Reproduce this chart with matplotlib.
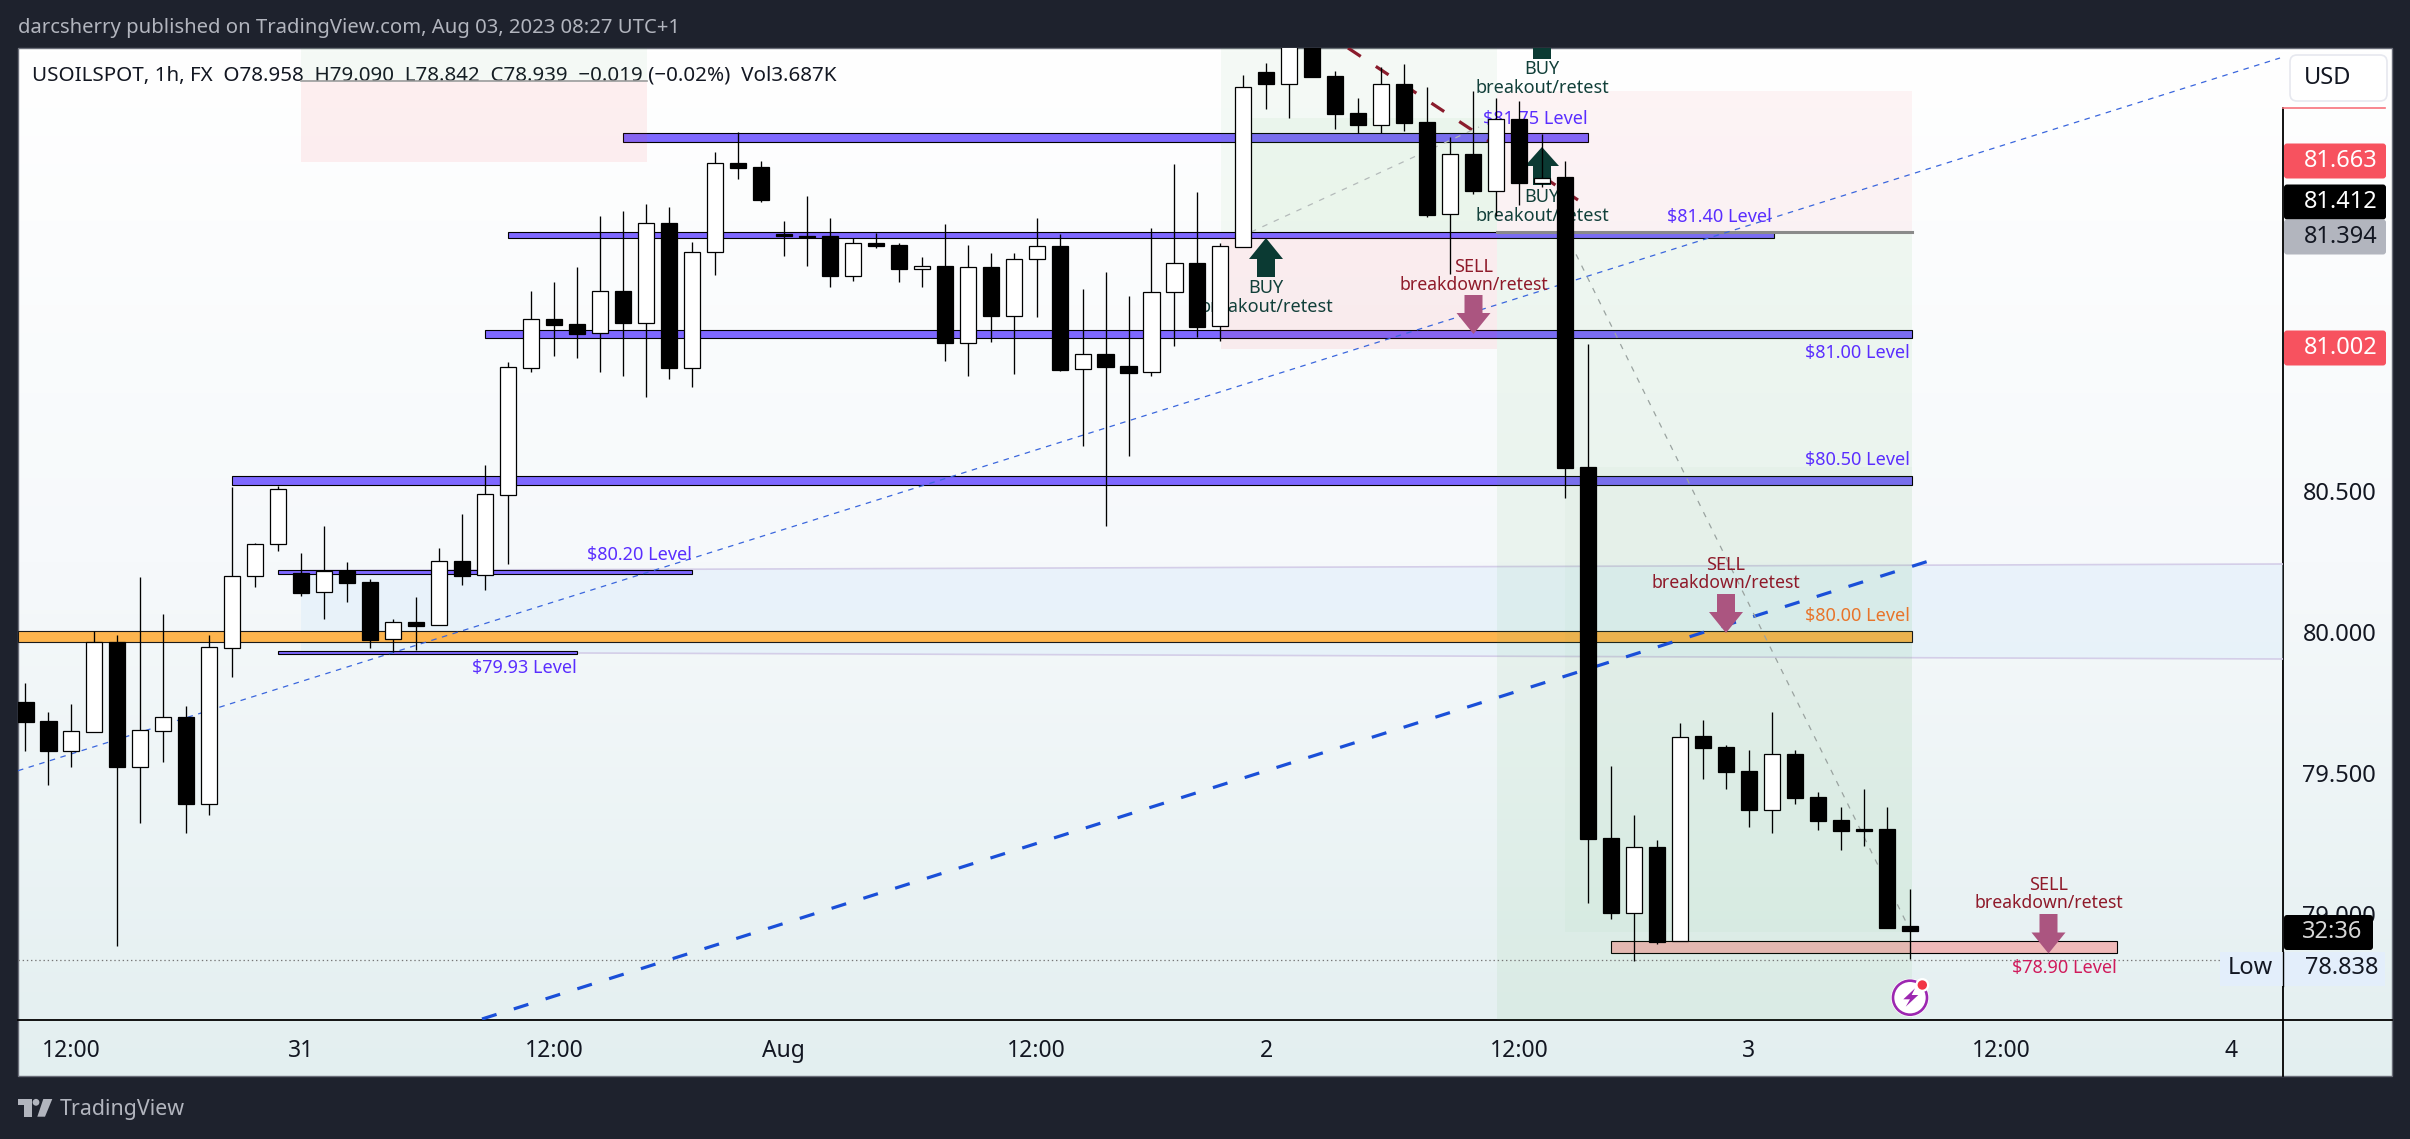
import matplotlib
matplotlib.use("Agg")
import matplotlib.pyplot as plt
import numpy as np
from matplotlib.patches import Circle, FancyBboxPatch, Polygon, Rectangle

plt.rcParams["font.family"] = ["Noto Sans", "DejaVu Sans"]
plt.rcParams["lines.scale_dashes"] = False

# hourly candles, USOILSPOT
opens = [79.752, 79.683, 79.579, 79.646, 79.966, 79.522, 79.650, 79.699, 79.391, 79.944,
         80.198, 80.311, 80.208, 80.141, 80.217, 80.177, 79.974, 80.035, 80.024, 80.251,
         80.201, 80.487, 80.937, 81.109, 81.092, 81.059, 81.209, 81.097, 81.450, 80.937,
         81.346, 81.663, 81.649, 81.411, 81.406, 81.404, 81.263, 81.379, 81.372, 81.288,
         81.298, 81.026, 81.294, 81.122, 81.322, 81.368, 80.932, 80.986, 80.943, 80.921,
         81.205, 81.309, 81.084, 81.366, 81.986, 81.944, 82.106, 81.972, 81.839, 81.799,
         81.943, 81.809, 81.481, 81.695, 81.565, 81.818, 81.593, 81.613, 80.585, 79.270,
         79.005, 79.236, 78.904, 79.631, 79.592, 79.507, 79.369, 79.567, 79.415, 79.333,
         79.300, 79.301, 78.958]
highs = [79.819, 79.716, 79.745, 80.005, 79.989, 80.195, 80.064, 79.738, 79.989, 80.514,
         80.316, 80.518, 80.279, 80.376, 80.247, 80.188, 80.045, 80.124, 80.298, 80.418,
         80.592, 80.956, 81.209, 81.241, 81.295, 81.475, 81.493, 81.518, 81.507, 81.383,
         81.702, 81.773, 81.670, 81.457, 81.546, 81.467, 81.397, 81.416, 81.378, 81.330,
         81.447, 81.372, 81.343, 81.343, 81.467, 81.410, 81.215, 81.276, 81.191, 81.432,
         81.658, 81.559, 81.378, 81.975, 82.018, 82.135, 82.152, 81.989, 81.893, 82.005,
         82.014, 81.932, 81.754, 81.918, 81.895, 81.883, 81.766, 81.670, 81.021, 79.525,
         79.351, 79.264, 79.677, 79.688, 79.599, 79.583, 79.715, 79.582, 79.433, 79.379,
         79.443, 79.379, 79.090]
lows = [79.579, 79.457, 79.522, 79.646, 78.888, 79.324, 79.540, 79.288, 79.352, 79.841,
        80.161, 80.288, 80.129, 80.047, 80.107, 79.944, 79.930, 79.936, 80.024, 80.167,
        80.149, 80.242, 80.922, 80.979, 80.973, 80.923, 80.909, 80.833, 80.897, 80.870,
        81.266, 81.607, 81.526, 81.333, 81.299, 81.224, 81.246, 81.363, 81.242, 81.224,
        80.962, 80.909, 81.029, 80.915, 81.118, 80.924, 80.660, 80.377, 80.625, 80.909,
        81.015, 81.047, 81.033, 81.366, 81.855, 81.823, 81.968, 81.785, 81.770, 81.770,
        81.778, 81.473, 81.268, 81.554, 81.475, 81.514, 81.579, 80.476, 79.040, 78.982,
        78.833, 78.894, 78.904, 79.480, 79.443, 79.309, 79.287, 79.390, 79.298, 79.227,
        79.241, 78.950, 78.842]
closes = [79.682, 79.579, 79.648, 79.963, 79.522, 79.651, 79.698, 79.391, 79.946, 80.198,
          80.311, 80.506, 80.139, 80.215, 80.175, 79.973, 80.034, 80.022, 80.251, 80.200,
          80.488, 80.939, 81.109, 81.090, 81.058, 81.208, 81.097, 81.449, 80.937, 81.346,
          81.662, 81.646, 81.532, 81.406, 81.401, 81.263, 81.378, 81.369, 81.288, 81.298,
          81.026, 81.293, 81.122, 81.322, 81.368, 80.930, 80.985, 80.941, 80.920, 81.205,
          81.307, 81.083, 81.368, 81.932, 81.944, 82.099, 81.968, 81.838, 81.799, 81.942,
          81.806, 81.479, 81.694, 81.565, 81.818, 81.593, 81.611, 80.583, 79.267, 79.005,
          79.236, 78.901, 79.629, 79.589, 79.504, 79.369, 79.567, 79.411, 79.330, 79.294,
          79.294, 78.950, 78.939]

time_ticks = [2, 12, 23, 33, 44, 54, 65, 75, 86, 96]
time_labels = ["12:00", "31", "12:00", "Aug", "12:00", "2", "12:00", "3", "12:00", "4"]
price_ticks = [80.5, 80.0, 79.5, 79.0]
price_labels = ["80.500", "80.000", "79.500", "79.000"]

# horizontal level boxes: first bar, last bar, upper price, lower price
level_left = [26.0, 21.0, 20.0, 9.0, 11.0, 11.0, 69.0]
level_right = [68.0, 76.1, 82.1, 82.1, 29.0, 24.0, 91.0]
level_top = [81.768, 81.418, 81.072, 80.552, 80.220, 79.934, 78.904]
level_bottom = [81.738, 81.398, 81.042, 80.520, 80.204, 79.922, 78.860]
level_colors = ["#7e68ff"] * 6 + ["#efb9b9"]
low_price = 78.838

fig = plt.figure(figsize=(24.10, 11.39), dpi=100, facecolor="#1e222d")


def pixel_axes(z):
    a = fig.add_axes([0, 0, 1, 1], zorder=z)
    a.set_xlim(0, 2410)
    a.set_ylim(1139, 0)
    a.axis("off")
    a.patch.set_alpha(0)
    return a


ui = pixel_axes(0)
top = pixel_axes(2)
gradient = np.linspace(0, 1, 256).reshape(-1, 1)
ui.imshow(gradient, extent=(18, 2392, 1076, 48), aspect="auto", zorder=0,
          cmap=matplotlib.colors.LinearSegmentedColormap.from_list("bg", ["#ffffff", "#f6f9fb", "#e3eff0"]))
ui.set_xlim(0, 2410)
ui.set_ylim(1139, 0)
ui.add_patch(Rectangle((18, 48), 2374, 1028, fill=False, ec="#6a6d78", lw=1, zorder=1))

ax = fig.add_axes([18 / 2410, 1 - 1020 / 1139, 2265 / 2410, 972 / 1139], zorder=1)
ax.patch.set_alpha(0)
ax.set_xlim(-0.326, 98.24)
ax.set_ylim(78.624, 82.071)
pix = ui.transData


def zone(x0, y0, x1, y1, color, alpha, z=2.5):
    ax.add_patch(Rectangle((x0, y0), x1 - x0, y1 - y0, fc=color, alpha=alpha, lw=0, transform=pix, zorder=z))


# blue band between the two thin lines
ax.add_patch(Polygon([(301, 570.5), (2283, 564), (2283, 659), (301, 652)], fc="#d4e9fb", alpha=0.35, lw=0,
                     transform=pix, zorder=1))
ax.plot([301, 2283], [570.5, 564], color="#d4cee8", lw=1.2, transform=pix, zorder=1)
ax.plot([301, 2283], [652, 659], color="#d4cee8", lw=1.2, transform=pix, zorder=1)

# level boxes
for left, right, up, down, col in zip(level_left, level_right, level_top, level_bottom, level_colors):
    ax.add_patch(Rectangle((left, down), right - left, up - down, fc=col, ec="black", lw=0.8, zorder=2))
ax.add_patch(Rectangle((18, 630.5), 1893.5, 11, fc="#fdb44e", ec="#1a1a1a", lw=0.8, transform=pix, zorder=2))

# position zones
zone(301, 48, 647, 81, "#4caf50", 0.05)
zone(301, 82, 647, 162, "#f23645", 0.08)
zone(1221, 48, 1497, 232, "#4caf50", 0.05)
zone(1251, 118, 1497, 232, "#4caf50", 0.05)
zone(1221, 237, 1497, 349, "#f23645", 0.08)
zone(1497, 91, 1912, 232, "#f23645", 0.05)
zone(1497, 232, 1912, 1020, "#4caf50", 0.07)
zone(1565, 467, 1912, 932, "#4caf50", 0.03)
ax.plot([301, 647], [81, 81], color="#9a9a9a", lw=1.2, transform=pix, zorder=2.6)
ax.plot([1497, 1912], [232, 232], color="#8a8a8a", lw=2.2, transform=pix, zorder=2.6)

# trend lines
ax.plot([18, 2280], [770.7, 58], color="#3a66dd", lw=0.9, ls=(0, (4, 4)), transform=pix, zorder=3)
ax.plot([482, 1932], [1019, 560], color="#1a4fd8", lw=2.3, ls=(0, (11, 13)), transform=pix, zorder=3,
        dash_capstyle="butt")
ax.plot([1348, 1578], [48, 200], color="#8a1c2c", lw=2.3, ls=(0, (11, 13)), transform=pix, zorder=3,
        dash_capstyle="butt")
ax.plot([1251, 1479], [232, 127], color="#b4baba", lw=0.9, ls=(0, (4, 5)), transform=pix, zorder=3)
ax.plot([1565, 1910], [232, 930], color="#9aa3a0", lw=0.9, ls=(0, (4, 5)), transform=pix, zorder=3)


def arrow(x, tip, base, tail, color, z=3.5):
    pts = [(x, tip), (x + 17, base), (x + 9, base), (x + 9, tail), (x - 9, tail), (x - 9, base), (x - 17, base)]
    ax.add_patch(Polygon(pts, fc=color, lw=0, transform=pix, zorder=z))


def note(x, y, s, color, ha="center", size=13):
    ax.text(x, y, s, color=color, ha=ha, va="center", fontsize=size, transform=pix, zorder=4)


for x, tip, base, tail in [(1266, 238, 259, 277), (1542, 20, 40, 59), (1542, 147, 166, 185)]:
    arrow(x, tip, base, tail, "#0b3a33")
for x, y in [(1266, 288), (1542, 69), (1542, 197)]:
    note(x, y, "BUY", "#12403a")
    note(x, y + 19, "breakout/retest", "#12403a")
for x, tip, base, tail in [(1473.5, 334, 313, 295), (1726, 633, 612, 594), (2048.5, 953.5, 932.5, 914)]:
    arrow(x, tip, base, tail, "#ab5580")
for x, y in [(1473.5, 267), (1726, 565), (2048.5, 885)]:
    note(x, y, "SELL", "#8f1a2a")
    note(x, y + 18.5, "breakdown/retest", "#8f1a2a", size=12.7)

level_blue = "#5a2eff"
note(1588, 119, "$81.75 Level", level_blue, "right")
note(1772, 217, "$81.40 Level", level_blue, "right")
note(1910, 353, "$81.00 Level", level_blue, "right")
note(1910, 460, "$80.50 Level", level_blue, "right")
note(692, 555, "$80.20 Level", level_blue, "right")
note(576.5, 668, "$79.93 Level", level_blue, "right")
note(1910, 616, "$80.00 Level", "#e8742a", "right")
note(2117, 968, "$78.90 Level", "#d01a5c", "right")

# candles
bars = np.arange(len(opens))
o = np.array(opens)
c = np.array(closes)
ax.vlines(bars, lows, highs, color="black", lw=0.95, zorder=5)
ax.bar(bars, np.abs(c - o), bottom=np.minimum(o, c), width=0.7,
       color=["white" if b >= a else "black" for a, b in zip(o, c)],
       edgecolor="black", linewidth=0.9, zorder=6)
ax.axhline(low_price, color="#777777", lw=0.9, ls=(0, (1, 2)), zorder=3)

for side in ["top", "left", "right", "bottom"]:
    ax.spines[side].set_visible(False)
ax.yaxis.tick_right()
ax.set_yticks(price_ticks, price_labels)
ax.set_xticks(time_ticks, time_labels)
ax.tick_params(axis="y", length=0, pad=14, labelsize=17, labelcolor="#131722")
ax.tick_params(axis="x", length=0, pad=14, labelsize=16.5, labelcolor="#131722")

ui.plot([18, 2392], [1020, 1020], color="black", lw=1.3, zorder=2)
ui.plot([2283, 2283], [108, 1076], color="black", lw=1.3, zorder=2)
top.plot([2283, 2385], [108, 108], color="#f7727c", lw=1.2)

# header and footer
ui.text(18, 28, "darcsherry published on TradingView.com, Aug 03, 2023 08:27 UTC+1", color="#b2b5be", fontsize=14.6,
        va="center", zorder=3)
ui.text(32, 76, "USOILSPOT, 1h, FX  O78.958  H79.090  L78.842  C78.939  −0.019 (−0.02%)  Vol3.687K",
        color="#131722", fontsize=14.8, va="center", zorder=3)
ui.text(60, 1110, "TradingView", color="#b2b5be", fontsize=15.4, va="center", zorder=3)
ui.add_patch(Polygon([(18, 1099), (31.7, 1099), (31.7, 1116.7), (24, 1116.7), (24, 1105), (18, 1105)], fc="#b2b5be", lw=0))
ui.add_patch(Circle((36, 1102.3), 3.4, fc="#b2b5be", lw=0))
ui.add_patch(Polygon([(52.3, 1099), (43.3, 1099), (37.3, 1116.7), (45, 1116.7)], fc="#b2b5be", lw=0))

# USD button and price labels
top.add_patch(FancyBboxPatch((2290, 55), 97, 46, boxstyle="round,pad=0,rounding_size=7", fc="white", ec="#e6e8ef",
                             lw=1.2, mutation_aspect=1))
top.text(2328, 78, "USD", color="#131722", fontsize=17, ha="center", va="center")
for yc, label, fc, tc in [(161, "81.663", "#f7525f", "white"), (202, "81.412", "black", "white"),
                          (237, "81.394", "#b2b5be", "#131722"), (348, "81.002", "#f7525f", "white")]:
    top.add_patch(FancyBboxPatch((2284, yc - 17.5), 102, 35, boxstyle="round,pad=0,rounding_size=3", fc=fc, lw=0))
    top.text(2378, yc, label, color=tc, fontsize=17, ha="right", va="center")
top.add_patch(FancyBboxPatch((2284, 915), 89, 35, boxstyle="round,pad=0,rounding_size=3", fc="black", lw=0))
top.text(2332, 932.5, "32:36", color="#d8d8d8", fontsize=17, ha="center", va="center")
top.add_patch(Rectangle((2220, 951.5), 165, 34.5, fc="#e3eefb", lw=0))
top.plot([2283, 2283], [951.5, 986], color="black", lw=1)
top.text(2250, 968.5, "Low", color="#131722", fontsize=17, ha="center", va="center")
top.text(2378, 968.5, "78.838", color="#131722", fontsize=17, ha="right", va="center")

# lightning icon on the last bar
top.add_patch(Circle((1910, 997.7), 19, fc="white", lw=0))
top.add_patch(Circle((1910, 997.7), 17, fc="none", ec="#9c27b0", lw=1.9))
top.add_patch(Polygon([(1915, 988.3), (1903.3, 999.3), (1910, 999.3), (1905.7, 1006.7), (1918.3, 995), (1911.7, 995)],
                      fc="#9c27b0", lw=0))
top.add_patch(Circle((1922.3, 985), 7, fc="white", lw=0))
top.add_patch(Circle((1922.3, 985), 4.7, fc="#f23645", lw=0))

fig.savefig("out.png", dpi=100, facecolor=fig.get_facecolor())
